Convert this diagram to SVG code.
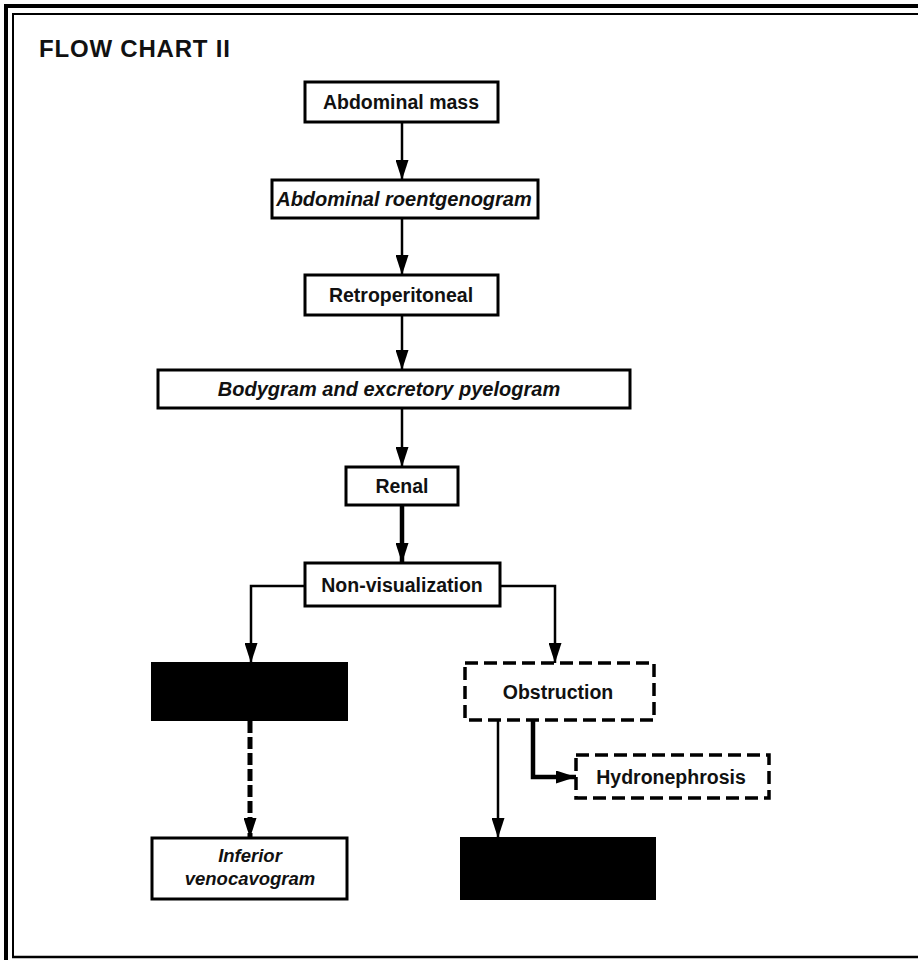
<svg xmlns="http://www.w3.org/2000/svg" width="918" height="960" viewBox="0 0 918 960">
<style>
.box{fill:#fff;stroke:#000;stroke-width:3}
.dbox{fill:#fff;stroke:#000;stroke-width:3.5;stroke-dasharray:13 6}
.blk{fill:#000;stroke:#000;stroke-width:2}
.t{font-family:"Liberation Sans",Arial,sans-serif;font-size:19.5px;font-weight:bold;text-anchor:middle;fill:#111}
.ti{font-family:"Liberation Sans",Arial,sans-serif;font-size:20px;font-weight:bold;font-style:italic;text-anchor:middle;fill:#111}
.c{fill:none;stroke:#000;stroke-width:2.5}
.ck{fill:none;stroke:#000;stroke-width:4.5}
.cd{fill:none;stroke:#000;stroke-width:5;stroke-dasharray:12 4}
</style>
<defs>
<marker id="ah" markerUnits="userSpaceOnUse" viewBox="0 0 20 13" refX="20" refY="6.5" markerWidth="20" markerHeight="13" orient="auto">
<path d="M0,0 L20,6.5 L0,13 Z" fill="#000"/>
</marker>
</defs>
<rect width="918" height="960" fill="#fff"/>
<g id="frame">
<path d="M6,960 V6 H918" fill="none" stroke="#000" stroke-width="4"/>
<path d="M13,957 V14 H918" fill="none" stroke="#000" stroke-width="2"/>
<path d="M12,957 H918" fill="none" stroke="#000" stroke-width="2.5"/>
</g>
<text x="39" y="57" font-family="Liberation Sans,Arial,sans-serif" font-size="24" font-weight="bold" letter-spacing="0.8" fill="#111">FLOW CHART II</text>
<g id="connectors">
<path class="c" d="M402,122 V180" marker-end="url(#ah)"/>
<path class="c" d="M402,218 V275" marker-end="url(#ah)"/>
<path class="c" d="M402,315 V370" marker-end="url(#ah)"/>
<path class="c" d="M402,408 V467" marker-end="url(#ah)"/>
<path class="ck" d="M402,505 V563" marker-end="url(#ah)"/>
<path class="c" d="M305,586 H251 V663" marker-end="url(#ah)"/>
<path class="c" d="M500,586 H555 V663" marker-end="url(#ah)"/>
<path class="cd" d="M250,721 V838" marker-end="url(#ah)"/>
<path class="c" d="M498,720 V838" marker-end="url(#ah)"/>
<path class="ck" d="M533,720 V777 H576" marker-end="url(#ah)"/>
</g>
<g id="n1"><rect class="box" x="305" y="82" width="193" height="40"/><text class="t" x="401" y="109">Abdominal mass</text></g>
<g id="n2"><rect class="box" x="272" y="180" width="266" height="38"/><text class="ti" x="404" y="206">Abdominal roentgenogram</text></g>
<g id="n3"><rect class="box" x="305" y="275" width="193" height="40"/><text class="t" x="401" y="302">Retroperitoneal</text></g>
<g id="n4"><rect class="box" x="158" y="370" width="472" height="38"/><text class="ti" x="389" y="396">Bodygram and excretory pyelogram</text></g>
<g id="n5"><rect class="box" x="346" y="467" width="112" height="38"/><text class="t" x="402" y="493">Renal</text></g>
<g id="n6"><rect class="box" x="305" y="563" width="195" height="43" stroke-width="3.5"/><text class="t" x="402" y="592">Non-visualization</text></g>
<g id="n7"><rect class="blk" x="152" y="663" width="195" height="57"/></g>
<g id="n8"><rect class="dbox" x="465" y="663" width="189" height="57"/><text class="t" x="558" y="699">Obstruction</text></g>
<g id="n9"><rect class="box" x="152" y="838" width="195" height="61"/><text class="ti" x="250" y="862" style="font-size:18.5px">Inferior</text><text class="ti" x="250" y="885" style="font-size:18.5px">venocavogram</text></g>
<g id="n10"><rect class="dbox" x="576" y="755" width="193" height="43"/><text class="t" x="671" y="784">Hydronephrosis</text></g>
<g id="n11"><rect class="blk" x="461" y="838" width="194" height="61"/></g>
</svg>
